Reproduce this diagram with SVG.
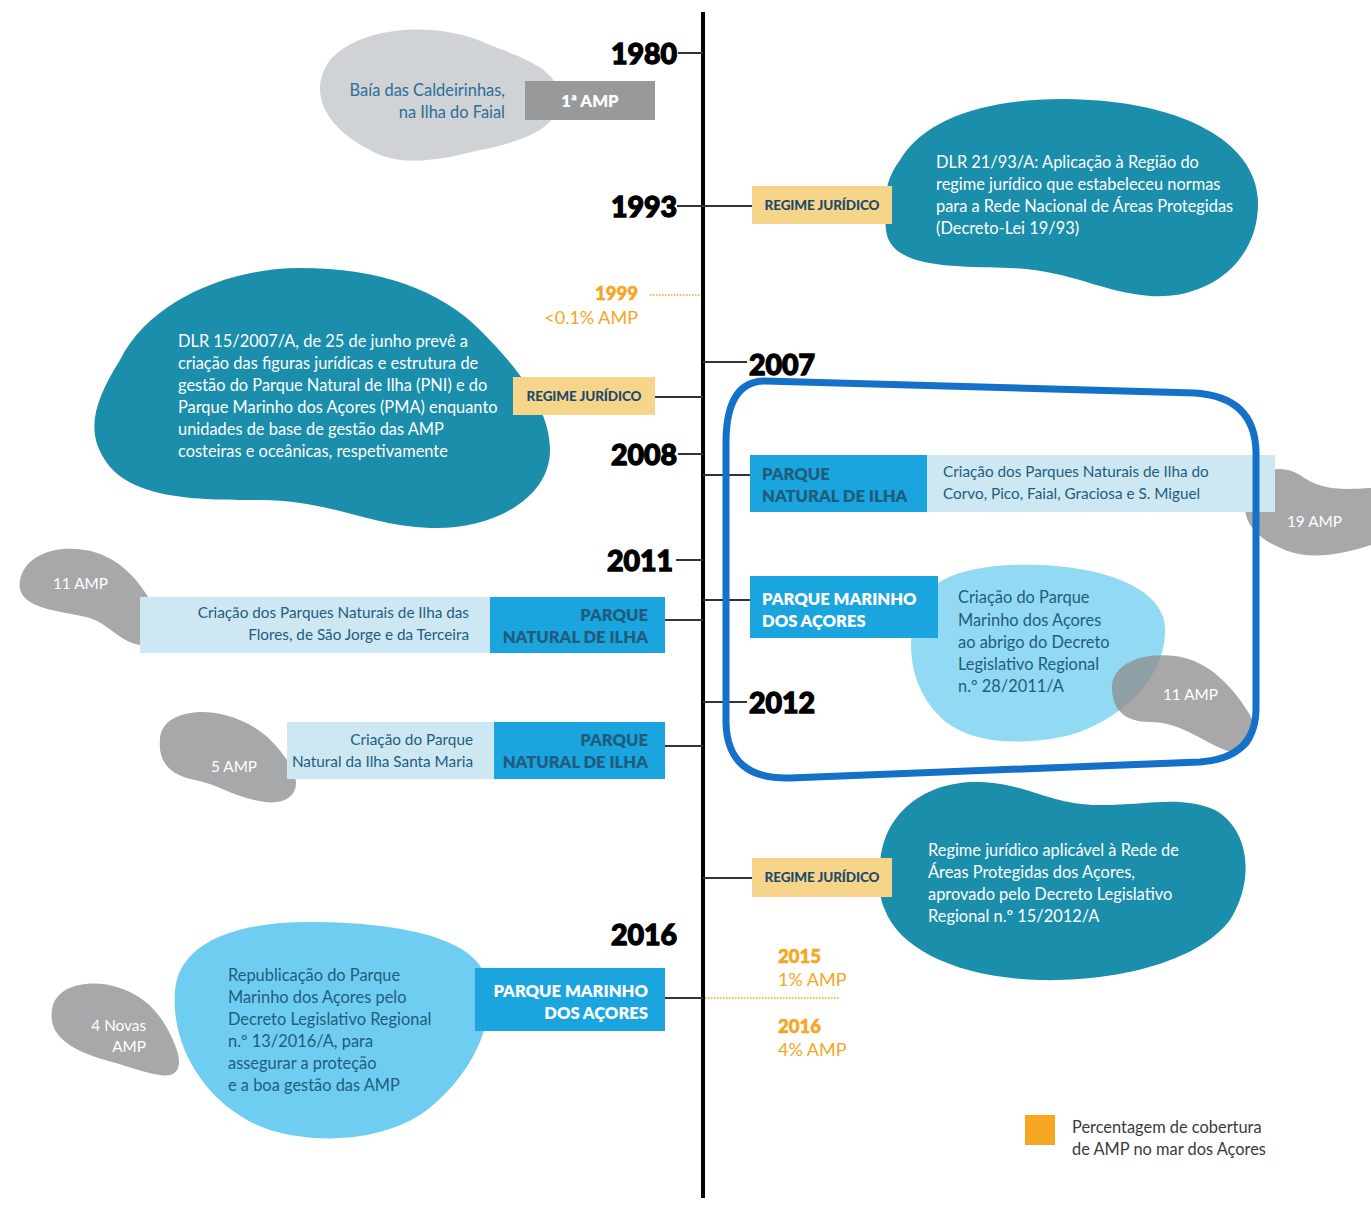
<svg xmlns="http://www.w3.org/2000/svg" width="1371" height="1207" viewBox="0 0 1371 1207">
<style>
.txt{font-family:Lato,"Liberation Sans",sans-serif;font-size:16.4px}
.sm{font-size:15.3px}
.w{fill:#ffffff}
.d{fill:#1f5d7e}
.yr{font-family:Lato,"Liberation Sans",sans-serif;font-size:28.5px;font-weight:900;fill:#000;stroke:#000;stroke-width:1.3px}
.box{font-family:Lato,"Liberation Sans",sans-serif;font-size:16.6px;font-weight:800}
.reg{font-family:Lato,"Liberation Sans",sans-serif;font-size:13.5px;font-weight:900;fill:#1d4a68;letter-spacing:-0.1px}
.or{font-family:Lato,"Liberation Sans",sans-serif;font-size:18px;fill:#f5a623}
.orb{font-weight:900;font-size:18.5px;stroke:#f5a623;stroke-width:0.6px}
.teal{fill:#1a8eab}
.gray{fill:#a7a8aa}
.blue{fill:#1aa5de}
.pale{fill:#cde8f2}
.yel{fill:#f6d48a}
.tick{stroke:#333;stroke-width:2;fill:none}
.dot{stroke:#f5a623;stroke-width:1.5;stroke-dasharray:1.5 1.5;fill:none}
</style>

<g id="connectors">
  <line x1="703" y1="12" x2="703" y2="1198" stroke="#000" stroke-width="4"/>
  <line class="tick" x1="678" y1="53" x2="703" y2="53"/>
  <line class="tick" x1="677" y1="206" x2="752" y2="206"/>
  <line class="dot" x1="650" y1="295" x2="701" y2="295"/>
  <line class="tick" x1="703" y1="362" x2="747" y2="362"/>
  <line class="tick" x1="655" y1="397" x2="703" y2="397"/>
  <line class="tick" x1="678" y1="454" x2="703" y2="454"/>
  <line class="tick" x1="703" y1="475" x2="750" y2="475"/>
  <line class="tick" x1="676" y1="560" x2="703" y2="560"/>
  <line class="tick" x1="703" y1="600" x2="750" y2="600"/>
  <line class="tick" x1="665" y1="620" x2="703" y2="620"/>
  <line class="tick" x1="703" y1="702" x2="747" y2="702"/>
  <line class="tick" x1="665" y1="746" x2="703" y2="746"/>
  <line class="tick" x1="703" y1="878" x2="752" y2="878"/>
  <line class="tick" x1="665" y1="998" x2="703" y2="998"/>
  <line class="dot" x1="705" y1="998" x2="840" y2="998"/>
</g>

<g id="years">
  <text class="yr" x="677" y="64" text-anchor="end">1980</text>
  <text class="yr" x="677" y="217" text-anchor="end">1993</text>
  <text class="yr" x="749" y="375">2007</text>
  <text class="yr" x="677" y="465" text-anchor="end">2008</text>
  <text class="yr" x="673" y="571" text-anchor="end">2011</text>
  <text class="yr" x="749" y="713">2012</text>
  <text class="yr" x="677" y="945" text-anchor="end">2016</text>
</g>

<g id="n1980">
  <path fill="#d0d3d6" d="M 330 60 C 360 25 440 20 490 45 C 530 60 555 70 560 95 C 562 125 530 140 480 150 C 440 160 400 168 370 150 C 330 130 305 95 330 60 Z"/>
  <rect x="525" y="81" width="130" height="39" fill="#98999b"/>
  <text class="box w" x="590" y="107" text-anchor="middle">1ª AMP</text>
  <text class="txt" x="505" y="96" text-anchor="end" fill="#2a6e96">Baía das Caldeirinhas,</text>
  <text class="txt" x="505" y="118" text-anchor="end" fill="#2a6e96">na Ilha do Faial</text>
</g>

<g id="n1993">
  <path class="teal" d="M 900 160 C 930 110 1010 95 1090 100 C 1180 105 1255 140 1258 200 C 1260 260 1210 300 1150 296 C 1100 292 1070 270 1010 268 C 960 266 890 270 886 230 C 883 200 885 180 900 160 Z"/>
  <rect class="yel" x="752" y="186" width="140" height="38"/>
  <text class="reg" x="822" y="210" text-anchor="middle">REGIME JURÍDICO</text>
  <text class="txt w" x="936" y="168">DLR 21/93/A: Aplicação à Região do</text>
  <text class="txt w" x="936" y="190">regime jurídico que estabeleceu normas</text>
  <text class="txt w" x="936" y="212">para a Rede Nacional de Áreas Protegidas</text>
  <text class="txt w" x="936" y="234">(Decreto-Lei 19/93)</text>
</g>

<g id="n1999">
  <text class="or orb" x="638" y="300" text-anchor="end">1999</text>
  <text class="or" x="638" y="324" text-anchor="end">&lt;0.1% AMP</text>
</g>

<g id="n2007">
  <path class="teal" d="M 120 360 C 150 300 230 268 300 268 C 380 268 440 290 480 330 C 520 370 550 410 550 450 C 550 500 490 530 430 528 C 370 526 330 500 260 500 C 200 500 130 500 105 460 C 85 430 95 400 120 360 Z"/>
  <rect class="yel" x="513" y="377" width="142" height="38"/>
  <text class="reg" x="584" y="401" text-anchor="middle">REGIME JURÍDICO</text>
  <text class="txt w" x="178" y="347">DLR 15/2007/A, de 25 de junho prevê a</text>
  <text class="txt w" x="178" y="369">criação das figuras jurídicas e estrutura de</text>
  <text class="txt w" x="178" y="391">gestão do Parque Natural de Ilha (PNI) e do</text>
  <text class="txt w" x="178" y="413">Parque Marinho dos Açores (PMA) enquanto</text>
  <text class="txt w" x="178" y="435">unidades de base de gestão das AMP</text>
  <text class="txt w" x="178" y="457">costeiras e oceânicas, respetivamente</text>
</g>

<g id="n2008">
  <path class="gray" d="M 1245 500 C 1250 470 1280 462 1300 475 C 1320 490 1340 490 1371 488 L 1371 545 C 1340 555 1310 560 1285 550 C 1260 540 1242 525 1245 500 Z"/>
  <text class="txt sm w" x="1287" y="527">19 AMP</text>
  <rect class="pale" x="927" y="455" width="348" height="57"/>
  <rect class="blue" x="750" y="455" width="177" height="57"/>
  <text class="box d" x="762" y="480">PARQUE</text>
  <text class="box d" x="762" y="502">NATURAL DE ILHA</text>
  <text class="txt sm d" x="943" y="477">Criação dos Parques Naturais de Ilha do</text>
  <text class="txt sm d" x="943" y="499">Corvo, Pico, Faial, Graciosa e  S. Miguel</text>
</g>

<g id="n2011pma">
  <path fill="#92d9f3" d="M 920 600 C 940 570 990 563 1040 565 C 1110 568 1165 590 1165 630 C 1165 680 1120 720 1070 735 C 1030 745 980 745 950 725 C 915 700 900 650 920 600 Z"/>
  <path fill="#8f9091" fill-opacity="0.78" d="M 1112 690 C 1110 665 1140 652 1175 656 C 1210 660 1235 690 1250 715 C 1262 740 1245 758 1225 750 C 1200 740 1180 722 1150 722 C 1125 722 1113 710 1112 690 Z"/>
  <text class="txt sm w" x="1163" y="700">11 AMP</text>
  <rect class="blue" x="750" y="576" width="188" height="62"/>
  <text class="box w" x="762" y="605">PARQUE MARINHO</text>
  <text class="box w" x="762" y="627">DOS AÇORES</text>
  <text class="txt d" x="958" y="603">Criação do Parque</text>
  <text class="txt d" x="958" y="626">Marinho dos Açores</text>
  <text class="txt d" x="958" y="648">ao abrigo do Decreto</text>
  <text class="txt d" x="958" y="670">Legislativo Regional</text>
  <text class="txt d" x="958" y="692">n.º 28/2011/A</text>
</g>

<g id="highlight">
  <path fill="none" stroke="#1470c8" stroke-width="7" d="M 765 381 L 1195 393 Q 1255 397 1256 452 L 1256 708 Q 1256 758 1200 762 L 790 778 Q 727 780 726 722 L 726 440 Q 727 381 765 381 Z"/>
</g>

<g id="n2011pni">
  <path class="gray" d="M 20 580 C 25 555 55 545 85 550 C 115 555 135 575 150 600 C 165 625 160 648 140 645 C 120 642 110 625 90 618 C 60 610 15 610 20 580 Z"/>
  <text class="txt sm w" x="53" y="589">11 AMP</text>
  <rect class="pale" x="140" y="597" width="350" height="56"/>
  <rect class="blue" x="490" y="597" width="175" height="56"/>
  <text class="box d" x="648" y="621" text-anchor="end">PARQUE</text>
  <text class="box d" x="648" y="643" text-anchor="end">NATURAL DE ILHA</text>
  <text class="txt sm d" x="469" y="618" text-anchor="end">Criação dos Parques Naturais de Ilha das</text>
  <text class="txt sm d" x="469" y="640" text-anchor="end">Flores, de São Jorge e da Terceira</text>
</g>

<g id="n2011sm">
  <path class="gray" d="M 160 740 C 160 715 195 707 225 715 C 255 723 275 740 290 765 C 305 790 290 805 265 802 C 235 798 220 785 195 780 C 168 775 158 760 160 740 Z"/>
  <text class="txt sm w" x="211" y="772">5 AMP</text>
  <rect class="pale" x="287" y="722" width="207" height="57"/>
  <rect class="blue" x="494" y="722" width="171" height="57"/>
  <text class="box d" x="648" y="746" text-anchor="end">PARQUE</text>
  <text class="box d" x="648" y="768" text-anchor="end">NATURAL DE ILHA</text>
  <text class="txt sm d" x="473" y="745" text-anchor="end">Criação do Parque</text>
  <text class="txt sm d" x="473" y="767" text-anchor="end">Natural da Ilha Santa Maria</text>
</g>

<g id="n2012">
  <path class="teal" d="M 880 870 C 880 810 930 780 980 782 C 1030 784 1050 805 1100 805 C 1150 805 1180 795 1215 810 C 1250 830 1255 880 1230 920 C 1200 960 1120 982 1040 980 C 960 978 900 950 885 910 C 878 895 880 880 880 870 Z"/>
  <rect class="yel" x="752" y="858" width="140" height="39"/>
  <text class="reg" x="822" y="882" text-anchor="middle">REGIME JURÍDICO</text>
  <text class="txt w" x="928" y="856">Regime jurídico aplicável à Rede de</text>
  <text class="txt w" x="928" y="878">Áreas Protegidas dos Açores,</text>
  <text class="txt w" x="928" y="900">aprovado pelo Decreto Legislativo</text>
  <text class="txt w" x="928" y="922">Regional n.º 15/2012/A</text>
</g>

<g id="n2015">
  <text class="or orb" x="778" y="963">2015</text>
  <text class="or" x="778" y="986">1% AMP</text>
  <text class="or orb" x="778" y="1033">2016</text>
  <text class="or" x="778" y="1056">4% AMP</text>
</g>

<g id="n2016">
  <path class="gray" d="M 52 1010 C 55 985 90 978 120 988 C 150 998 165 1020 175 1045 C 185 1070 175 1078 160 1075 C 140 1072 125 1065 105 1060 C 70 1050 48 1035 52 1010 Z"/>
  <path fill="#6fcdf1" d="M 175 990 C 180 940 240 922 310 922 C 390 922 470 935 485 975 C 500 1020 470 1080 420 1115 C 380 1140 320 1145 270 1130 C 210 1110 170 1050 175 990 Z"/>
  <text class="txt sm w" x="146" y="1031" text-anchor="end">4 Novas</text>
  <text class="txt sm w" x="146" y="1052" text-anchor="end">AMP</text>
  <rect class="blue" x="475" y="968" width="190" height="63"/>
  <text class="box w" x="648" y="997" text-anchor="end">PARQUE MARINHO</text>
  <text class="box w" x="648" y="1019" text-anchor="end">DOS AÇORES</text>
  <text class="txt d" x="228" y="981">Republicação do Parque</text>
  <text class="txt d" x="228" y="1003">Marinho dos Açores pelo</text>
  <text class="txt d" x="228" y="1025">Decreto Legislativo Regional</text>
  <text class="txt d" x="228" y="1047">n.º 13/2016/A, para</text>
  <text class="txt d" x="228" y="1069">assegurar a proteção</text>
  <text class="txt d" x="228" y="1091">e a boa gestão das AMP</text>
</g>

<g id="legend">
  <rect x="1025" y="1115" width="30" height="30" fill="#f7a823"/>
  <text class="txt" x="1072" y="1133" fill="#3a3a3a">Percentagem de cobertura</text>
  <text class="txt" x="1072" y="1155" fill="#3a3a3a">de AMP no mar dos Açores</text>
</g>
</svg>
